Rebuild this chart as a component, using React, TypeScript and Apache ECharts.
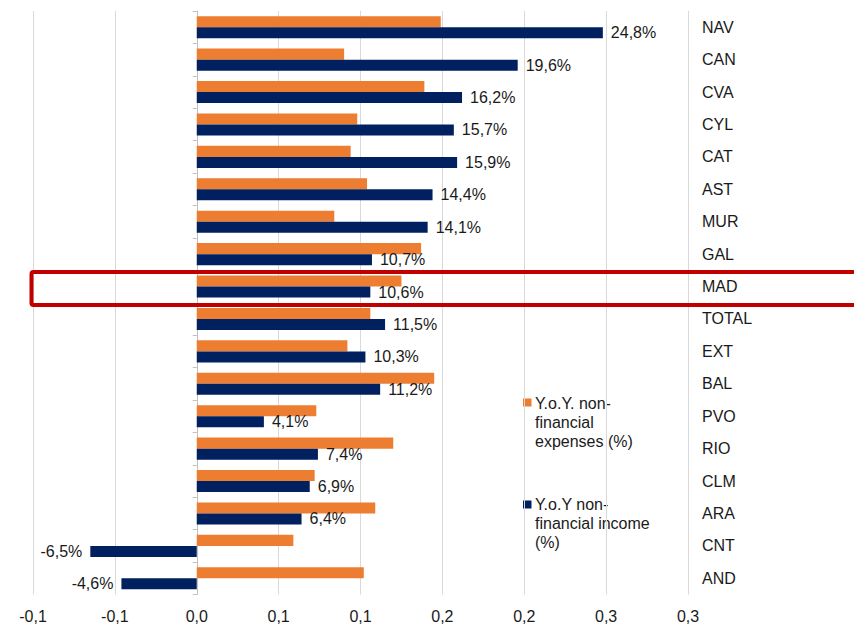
import React, { useEffect, useRef } from "react";
import * as echarts from "echarts";

const categories = ["NAV", "CAN", "CVA", "CYL", "CAT", "AST", "MUR", "GAL", "MAD", "TOTAL", "EXT", "BAL", "PVO", "RIO", "CLM", "ARA", "CNT", "AND"];
const expensesYoY = [0.149, 0.09, 0.139, 0.098, 0.094, 0.104, 0.084, 0.137, 0.125, 0.106, 0.092, 0.145, 0.073, 0.12, 0.072, 0.109, 0.059, 0.102];
const incomeYoY = [0.248, 0.196, 0.162, 0.157, 0.159, 0.144, 0.141, 0.107, 0.106, 0.115, 0.103, 0.112, 0.041, 0.074, 0.069, 0.064, -0.065, -0.046];
const expensesName = "Y.o.Y. non-financial expenses (%)";
const incomeName = "Y.o.Y non-financial income (%)";
const expensesLegend = "Y.o.Y. non-\nfinancial\nexpenses (%)";
const incomeLegend = "Y.o.Y non-\nfinancial income\n(%)";

const FONT = '"Liberation Sans", Arial, sans-serif';
const ORANGE = "#ED7D31";
const NAVY = "#002060";
const TEXT = "#1a1a1a";
const FS = 16;

function fmtTick(v: number): string {
  const s = v < 0 ? -1 : 1;
  const r = (s * Math.round(Math.abs(v) * 10 + 1e-9)) / 10;
  const out = Math.abs(r) < 1e-12 ? "0.0" : r.toFixed(1);
  return out.replace(".", ",");
}

function fmtPct(v: number): string {
  return (v * 100).toFixed(1).replace(".", ",") + "%";
}

export default function App() {
  const ref = useRef<HTMLDivElement>(null);
  useEffect(() => {
    if (!ref.current) return;
    const chart = echarts.init(ref.current, undefined, { renderer: "svg" });
    chart.setOption({
      animation: false,
      backgroundColor: "#ffffff",
      textStyle: { fontFamily: FONT },
      grid: { left: 33, right: 166, top: 11, bottom: 31.5 },
      xAxis: {
        type: "value",
        min: -0.1,
        max: 0.3,
        interval: 0.05,
        axisLine: { show: false },
        axisTick: { show: false },
        splitLine: { show: true, lineStyle: { color: "#d9d9d9", width: 1 } },
        axisLabel: {
          formatter: (v: number) => fmtTick(v),
          color: TEXT,
          fontSize: FS,
          fontFamily: FONT,
          margin: 14,
          showMinLabel: true,
          showMaxLabel: true,
        },
      },
      yAxis: [
        {
          type: "category",
          data: categories,
          inverse: true,
          position: "left",
          axisLine: { show: true, onZero: true, lineStyle: { color: "#bfbfbf", width: 1 } },
          axisTick: { show: true, length: 4, lineStyle: { color: "#bfbfbf" } },
          axisLabel: { show: false },
          splitLine: { show: false },
        },
        {
          type: "category",
          data: categories,
          inverse: true,
          position: "right",
          axisLine: { show: false },
          axisTick: { show: false },
          splitLine: { show: false },
          axisLabel: { color: TEXT, fontSize: FS, fontFamily: FONT, margin: 14, align: "left" },
        },
      ],
      series: [
        {
          name: expensesName,
          type: "bar",
          yAxisIndex: 0,
          data: expensesYoY,
          itemStyle: { color: ORANGE },
          barGap: "0%",
          barCategoryGap: "32%",
        },
        {
          name: incomeName,
          type: "bar",
          yAxisIndex: 0,
          data: incomeYoY.map((v) => ({
            value: v,
            label: { position: v < 0 ? "left" : "right" },
          })),
          itemStyle: { color: NAVY },
          barGap: "0%",
          barCategoryGap: "32%",
          label: {
            show: true,
            position: "right",
            distance: 8,
            color: TEXT,
            fontSize: FS,
            fontFamily: FONT,
            formatter: (p: any) => fmtPct(p.value),
          },
        },
      ],
      graphic: [
        {
          type: "rect",
          shape: { x: 31.5, y: 272, width: 840, height: 33, r: 2 },
          style: { fill: "none", stroke: "#C00000", lineWidth: 4 },
          z: 100,
        },
        {
          type: "rect",
          shape: { x: 523, y: 398.5, width: 8.5, height: 8 },
          style: { fill: ORANGE },
        },
        {
          type: "text",
          x: 535,
          y: 393.5,
          style: {
            text: expensesLegend,
            fill: TEXT,
            fontSize: FS,
            fontFamily: FONT,
            lineHeight: 19,
            verticalAlign: "top",
            align: "left",
          },
        },
        {
          type: "rect",
          shape: { x: 523, y: 500.5, width: 8.5, height: 8 },
          style: { fill: NAVY },
        },
        {
          type: "text",
          x: 535,
          y: 495,
          style: {
            text: incomeLegend,
            fill: TEXT,
            fontSize: FS,
            fontFamily: FONT,
            lineHeight: 19,
            verticalAlign: "top",
            align: "left",
          },
        },
      ],
    });
    return () => chart.dispose();
  }, []);
  return (
    <div
      ref={ref}
      style={{ position: "fixed", left: 0, top: 0, width: 854, height: 626 }}
    />
  );
}
